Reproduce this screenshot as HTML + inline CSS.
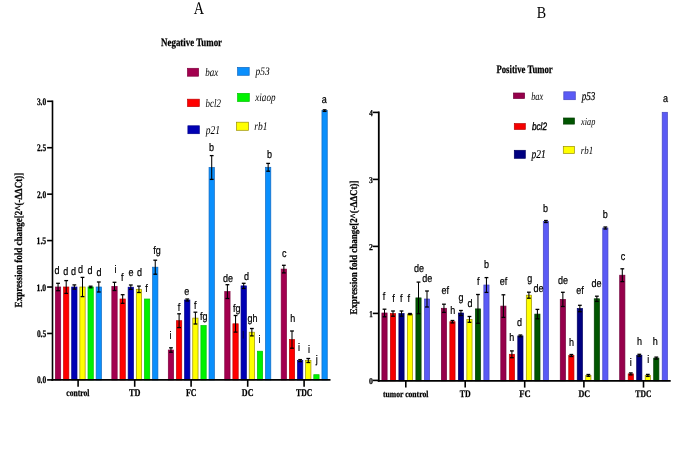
<!DOCTYPE html>
<html><head><meta charset="utf-8"><style>
html,body{margin:0;padding:0;background:#fff;}
svg{display:block;will-change:transform;filter:blur(0.45px);}
text{text-rendering:geometricPrecision;}
</style></head><body>
<svg width="685" height="464" viewBox="0 0 685 464">
<rect x="0" y="0" width="685" height="464" fill="#fff"/>
<rect x="55.40" y="287.00" width="5.30" height="92.90" fill="#a3004f" stroke="#80003e" stroke-width="0.7"/>
<rect x="63.55" y="287.00" width="5.30" height="92.90" fill="#ff0000" stroke="#c00000" stroke-width="0.7"/>
<rect x="71.70" y="287.00" width="5.30" height="92.90" fill="#0000b4" stroke="#00008c" stroke-width="0.7"/>
<rect x="79.85" y="287.00" width="5.30" height="92.90" fill="#ffff00" stroke="#9a9000" stroke-width="0.7"/>
<rect x="88.00" y="287.00" width="5.30" height="92.90" fill="#00f200" stroke="#00c400" stroke-width="0.7"/>
<rect x="96.15" y="287.00" width="5.30" height="92.90" fill="#0a8ffc" stroke="#1068c0" stroke-width="0.7"/>
<rect x="111.85" y="286.40" width="5.30" height="93.50" fill="#a3004f" stroke="#80003e" stroke-width="0.7"/>
<rect x="120.00" y="299.00" width="5.30" height="80.90" fill="#ff0000" stroke="#c00000" stroke-width="0.7"/>
<rect x="128.15" y="287.20" width="5.30" height="92.70" fill="#0000b4" stroke="#00008c" stroke-width="0.7"/>
<rect x="136.30" y="289.30" width="5.30" height="90.60" fill="#ffff00" stroke="#9a9000" stroke-width="0.7"/>
<rect x="144.45" y="299.00" width="5.30" height="80.90" fill="#00f200" stroke="#00c400" stroke-width="0.7"/>
<rect x="152.60" y="267.20" width="5.30" height="112.70" fill="#0a8ffc" stroke="#1068c0" stroke-width="0.7"/>
<rect x="168.30" y="350.00" width="5.30" height="29.90" fill="#a3004f" stroke="#80003e" stroke-width="0.7"/>
<rect x="176.45" y="320.70" width="5.30" height="59.20" fill="#ff0000" stroke="#c00000" stroke-width="0.7"/>
<rect x="184.60" y="300.00" width="5.30" height="79.90" fill="#0000b4" stroke="#00008c" stroke-width="0.7"/>
<rect x="192.75" y="318.10" width="5.30" height="61.80" fill="#ffff00" stroke="#9a9000" stroke-width="0.7"/>
<rect x="200.90" y="325.50" width="5.30" height="54.40" fill="#00f200" stroke="#00c400" stroke-width="0.7"/>
<rect x="209.05" y="167.50" width="5.30" height="212.40" fill="#0a8ffc" stroke="#1068c0" stroke-width="0.7"/>
<rect x="224.75" y="291.60" width="5.30" height="88.30" fill="#a3004f" stroke="#80003e" stroke-width="0.7"/>
<rect x="232.90" y="323.80" width="5.30" height="56.10" fill="#ff0000" stroke="#c00000" stroke-width="0.7"/>
<rect x="241.05" y="285.90" width="5.30" height="94.00" fill="#0000b4" stroke="#00008c" stroke-width="0.7"/>
<rect x="249.20" y="332.20" width="5.30" height="47.70" fill="#ffff00" stroke="#9a9000" stroke-width="0.7"/>
<rect x="257.35" y="351.20" width="5.30" height="28.70" fill="#00f200" stroke="#00c400" stroke-width="0.7"/>
<rect x="265.50" y="167.30" width="5.30" height="212.60" fill="#0a8ffc" stroke="#1068c0" stroke-width="0.7"/>
<rect x="281.20" y="269.10" width="5.30" height="110.80" fill="#a3004f" stroke="#80003e" stroke-width="0.7"/>
<rect x="289.35" y="339.60" width="5.30" height="40.30" fill="#ff0000" stroke="#c00000" stroke-width="0.7"/>
<rect x="297.50" y="360.60" width="5.30" height="19.30" fill="#0000b4" stroke="#00008c" stroke-width="0.7"/>
<rect x="305.65" y="360.50" width="5.30" height="19.40" fill="#ffff00" stroke="#9a9000" stroke-width="0.7"/>
<rect x="313.80" y="374.70" width="5.30" height="5.20" fill="#00f200" stroke="#00c400" stroke-width="0.7"/>
<rect x="321.95" y="110.60" width="5.30" height="269.30" fill="#0a8ffc" stroke="#1068c0" stroke-width="0.7"/>
<line x1="58.05" y1="283.30" x2="58.05" y2="290.70" stroke="#000" stroke-width="1.05"/>
<line x1="56.15" y1="283.30" x2="59.95" y2="283.30" stroke="#000" stroke-width="1.3"/>
<line x1="56.15" y1="290.70" x2="59.95" y2="290.70" stroke="#000" stroke-width="1.3"/>
<line x1="66.20" y1="280.60" x2="66.20" y2="293.40" stroke="#000" stroke-width="1.05"/>
<line x1="64.30" y1="280.60" x2="68.10" y2="280.60" stroke="#000" stroke-width="1.3"/>
<line x1="64.30" y1="293.40" x2="68.10" y2="293.40" stroke="#000" stroke-width="1.3"/>
<line x1="74.35" y1="284.90" x2="74.35" y2="289.10" stroke="#000" stroke-width="1.05"/>
<line x1="72.45" y1="284.90" x2="76.25" y2="284.90" stroke="#000" stroke-width="1.3"/>
<line x1="72.45" y1="289.10" x2="76.25" y2="289.10" stroke="#000" stroke-width="1.3"/>
<line x1="82.50" y1="277.40" x2="82.50" y2="296.60" stroke="#000" stroke-width="1.05"/>
<line x1="80.60" y1="277.40" x2="84.40" y2="277.40" stroke="#000" stroke-width="1.3"/>
<line x1="80.60" y1="296.60" x2="84.40" y2="296.60" stroke="#000" stroke-width="1.3"/>
<line x1="90.65" y1="286.20" x2="90.65" y2="287.80" stroke="#000" stroke-width="1.05"/>
<line x1="88.75" y1="286.20" x2="92.55" y2="286.20" stroke="#000" stroke-width="1.3"/>
<line x1="88.75" y1="287.80" x2="92.55" y2="287.80" stroke="#000" stroke-width="1.3"/>
<line x1="98.80" y1="282.00" x2="98.80" y2="292.00" stroke="#000" stroke-width="1.05"/>
<line x1="96.90" y1="282.00" x2="100.70" y2="282.00" stroke="#000" stroke-width="1.3"/>
<line x1="96.90" y1="292.00" x2="100.70" y2="292.00" stroke="#000" stroke-width="1.3"/>
<line x1="114.50" y1="282.30" x2="114.50" y2="290.50" stroke="#000" stroke-width="1.05"/>
<line x1="112.60" y1="282.30" x2="116.40" y2="282.30" stroke="#000" stroke-width="1.3"/>
<line x1="112.60" y1="290.50" x2="116.40" y2="290.50" stroke="#000" stroke-width="1.3"/>
<line x1="122.65" y1="294.70" x2="122.65" y2="303.30" stroke="#000" stroke-width="1.05"/>
<line x1="120.75" y1="294.70" x2="124.55" y2="294.70" stroke="#000" stroke-width="1.3"/>
<line x1="120.75" y1="303.30" x2="124.55" y2="303.30" stroke="#000" stroke-width="1.3"/>
<line x1="130.80" y1="285.00" x2="130.80" y2="289.40" stroke="#000" stroke-width="1.05"/>
<line x1="128.90" y1="285.00" x2="132.70" y2="285.00" stroke="#000" stroke-width="1.3"/>
<line x1="128.90" y1="289.40" x2="132.70" y2="289.40" stroke="#000" stroke-width="1.3"/>
<line x1="138.95" y1="286.10" x2="138.95" y2="292.50" stroke="#000" stroke-width="1.05"/>
<line x1="137.05" y1="286.10" x2="140.85" y2="286.10" stroke="#000" stroke-width="1.3"/>
<line x1="137.05" y1="292.50" x2="140.85" y2="292.50" stroke="#000" stroke-width="1.3"/>
<line x1="155.25" y1="260.20" x2="155.25" y2="274.20" stroke="#000" stroke-width="1.05"/>
<line x1="153.35" y1="260.20" x2="157.15" y2="260.20" stroke="#000" stroke-width="1.3"/>
<line x1="153.35" y1="274.20" x2="157.15" y2="274.20" stroke="#000" stroke-width="1.3"/>
<line x1="170.95" y1="347.80" x2="170.95" y2="352.20" stroke="#000" stroke-width="1.05"/>
<line x1="169.05" y1="347.80" x2="172.85" y2="347.80" stroke="#000" stroke-width="1.3"/>
<line x1="169.05" y1="352.20" x2="172.85" y2="352.20" stroke="#000" stroke-width="1.3"/>
<line x1="179.10" y1="313.80" x2="179.10" y2="327.60" stroke="#000" stroke-width="1.05"/>
<line x1="177.20" y1="313.80" x2="181.00" y2="313.80" stroke="#000" stroke-width="1.3"/>
<line x1="177.20" y1="327.60" x2="181.00" y2="327.60" stroke="#000" stroke-width="1.3"/>
<line x1="187.25" y1="299.00" x2="187.25" y2="301.00" stroke="#000" stroke-width="1.05"/>
<line x1="185.35" y1="299.00" x2="189.15" y2="299.00" stroke="#000" stroke-width="1.3"/>
<line x1="185.35" y1="301.00" x2="189.15" y2="301.00" stroke="#000" stroke-width="1.3"/>
<line x1="195.40" y1="312.20" x2="195.40" y2="324.00" stroke="#000" stroke-width="1.05"/>
<line x1="193.50" y1="312.20" x2="197.30" y2="312.20" stroke="#000" stroke-width="1.3"/>
<line x1="193.50" y1="324.00" x2="197.30" y2="324.00" stroke="#000" stroke-width="1.3"/>
<line x1="211.70" y1="155.60" x2="211.70" y2="179.40" stroke="#000" stroke-width="1.05"/>
<line x1="209.80" y1="155.60" x2="213.60" y2="155.60" stroke="#000" stroke-width="1.3"/>
<line x1="209.80" y1="179.40" x2="213.60" y2="179.40" stroke="#000" stroke-width="1.3"/>
<line x1="227.40" y1="284.70" x2="227.40" y2="298.50" stroke="#000" stroke-width="1.05"/>
<line x1="225.50" y1="284.70" x2="229.30" y2="284.70" stroke="#000" stroke-width="1.3"/>
<line x1="225.50" y1="298.50" x2="229.30" y2="298.50" stroke="#000" stroke-width="1.3"/>
<line x1="235.55" y1="315.50" x2="235.55" y2="332.10" stroke="#000" stroke-width="1.05"/>
<line x1="233.65" y1="315.50" x2="237.45" y2="315.50" stroke="#000" stroke-width="1.3"/>
<line x1="233.65" y1="332.10" x2="237.45" y2="332.10" stroke="#000" stroke-width="1.3"/>
<line x1="243.70" y1="283.30" x2="243.70" y2="288.50" stroke="#000" stroke-width="1.05"/>
<line x1="241.80" y1="283.30" x2="245.60" y2="283.30" stroke="#000" stroke-width="1.3"/>
<line x1="241.80" y1="288.50" x2="245.60" y2="288.50" stroke="#000" stroke-width="1.3"/>
<line x1="251.85" y1="328.50" x2="251.85" y2="335.90" stroke="#000" stroke-width="1.05"/>
<line x1="249.95" y1="328.50" x2="253.75" y2="328.50" stroke="#000" stroke-width="1.3"/>
<line x1="249.95" y1="335.90" x2="253.75" y2="335.90" stroke="#000" stroke-width="1.3"/>
<line x1="268.15" y1="163.40" x2="268.15" y2="171.20" stroke="#000" stroke-width="1.05"/>
<line x1="266.25" y1="163.40" x2="270.05" y2="163.40" stroke="#000" stroke-width="1.3"/>
<line x1="266.25" y1="171.20" x2="270.05" y2="171.20" stroke="#000" stroke-width="1.3"/>
<line x1="283.85" y1="265.30" x2="283.85" y2="272.90" stroke="#000" stroke-width="1.05"/>
<line x1="281.95" y1="265.30" x2="285.75" y2="265.30" stroke="#000" stroke-width="1.3"/>
<line x1="281.95" y1="272.90" x2="285.75" y2="272.90" stroke="#000" stroke-width="1.3"/>
<line x1="292.00" y1="331.00" x2="292.00" y2="348.20" stroke="#000" stroke-width="1.05"/>
<line x1="290.10" y1="331.00" x2="293.90" y2="331.00" stroke="#000" stroke-width="1.3"/>
<line x1="290.10" y1="348.20" x2="293.90" y2="348.20" stroke="#000" stroke-width="1.3"/>
<line x1="300.15" y1="359.60" x2="300.15" y2="361.60" stroke="#000" stroke-width="1.05"/>
<line x1="298.25" y1="359.60" x2="302.05" y2="359.60" stroke="#000" stroke-width="1.3"/>
<line x1="298.25" y1="361.60" x2="302.05" y2="361.60" stroke="#000" stroke-width="1.3"/>
<line x1="308.30" y1="358.50" x2="308.30" y2="362.50" stroke="#000" stroke-width="1.05"/>
<line x1="306.40" y1="358.50" x2="310.20" y2="358.50" stroke="#000" stroke-width="1.3"/>
<line x1="306.40" y1="362.50" x2="310.20" y2="362.50" stroke="#000" stroke-width="1.3"/>
<line x1="324.60" y1="109.80" x2="324.60" y2="111.40" stroke="#000" stroke-width="1.05"/>
<line x1="322.70" y1="109.80" x2="326.50" y2="109.80" stroke="#000" stroke-width="1.3"/>
<line x1="322.70" y1="111.40" x2="326.50" y2="111.40" stroke="#000" stroke-width="1.3"/>
<line x1="52.50" y1="100.60" x2="52.50" y2="380.80" stroke="#000" stroke-width="1.6"/>
<line x1="51.30" y1="379.90" x2="330.50" y2="379.90" stroke="#000" stroke-width="1.8"/>
<line x1="47.10" y1="379.90" x2="52.50" y2="379.90" stroke="#000" stroke-width="1.6"/>
<line x1="47.10" y1="333.46" x2="52.50" y2="333.46" stroke="#000" stroke-width="1.6"/>
<line x1="47.10" y1="287.03" x2="52.50" y2="287.03" stroke="#000" stroke-width="1.6"/>
<line x1="47.10" y1="240.59" x2="52.50" y2="240.59" stroke="#000" stroke-width="1.6"/>
<line x1="47.10" y1="194.16" x2="52.50" y2="194.16" stroke="#000" stroke-width="1.6"/>
<line x1="47.10" y1="147.72" x2="52.50" y2="147.72" stroke="#000" stroke-width="1.6"/>
<line x1="47.10" y1="101.29" x2="52.50" y2="101.29" stroke="#000" stroke-width="1.6"/>
<line x1="78.10" y1="379.90" x2="78.10" y2="386.80" stroke="#000" stroke-width="1.6"/>
<line x1="134.70" y1="379.90" x2="134.70" y2="386.80" stroke="#000" stroke-width="1.6"/>
<line x1="191.10" y1="379.90" x2="191.10" y2="386.80" stroke="#000" stroke-width="1.6"/>
<line x1="247.70" y1="379.90" x2="247.70" y2="386.80" stroke="#000" stroke-width="1.6"/>
<line x1="304.10" y1="379.90" x2="304.10" y2="386.80" stroke="#000" stroke-width="1.6"/>
<line x1="243.20" y1="331.00" x2="243.20" y2="338.60" stroke="#000040" stroke-width="1.0"/>
<text transform="translate(54.61 273.70) scale(0.8200 1)" font-family='"Liberation Sans", sans-serif' font-size="11.00" fill="#000" stroke="#000" stroke-width="0.22">d</text>
<text transform="translate(63.21 274.60) scale(0.8200 1)" font-family='"Liberation Sans", sans-serif' font-size="11.00" fill="#000" stroke="#000" stroke-width="0.22">d</text>
<text transform="translate(71.11 275.30) scale(0.8200 1)" font-family='"Liberation Sans", sans-serif' font-size="11.00" fill="#000" stroke="#000" stroke-width="0.22">d</text>
<text transform="translate(78.11 273.20) scale(0.8200 1)" font-family='"Liberation Sans", sans-serif' font-size="11.00" fill="#000" stroke="#000" stroke-width="0.22">d</text>
<text transform="translate(87.51 274.20) scale(0.8200 1)" font-family='"Liberation Sans", sans-serif' font-size="11.00" fill="#000" stroke="#000" stroke-width="0.22">d</text>
<text transform="translate(96.41 276.40) scale(0.8200 1)" font-family='"Liberation Sans", sans-serif' font-size="11.00" fill="#000" stroke="#000" stroke-width="0.22">d</text>
<text transform="translate(114.41 272.80) scale(0.8200 1)" font-family='"Liberation Sans", sans-serif' font-size="11.00" fill="#000" stroke="#000" stroke-width="0.22">i</text>
<text transform="translate(120.89 281.20) scale(0.8200 1)" font-family='"Liberation Sans", sans-serif' font-size="11.00" fill="#000" stroke="#000" stroke-width="0.22">f</text>
<text transform="translate(128.42 276.40) scale(0.8200 1)" font-family='"Liberation Sans", sans-serif' font-size="11.00" fill="#000" stroke="#000" stroke-width="0.22">e</text>
<text transform="translate(137.11 275.90) scale(0.8200 1)" font-family='"Liberation Sans", sans-serif' font-size="11.00" fill="#000" stroke="#000" stroke-width="0.22">d</text>
<text transform="translate(145.19 291.50) scale(0.8200 1)" font-family='"Liberation Sans", sans-serif' font-size="11.00" fill="#000" stroke="#000" stroke-width="0.22">f</text>
<text transform="translate(153.18 253.60) scale(0.8200 1)" font-family='"Liberation Sans", sans-serif' font-size="11.00" fill="#000" stroke="#000" stroke-width="0.22">fg</text>
<text transform="translate(169.51 338.50) scale(0.8200 1)" font-family='"Liberation Sans", sans-serif' font-size="11.00" fill="#000" stroke="#000" stroke-width="0.22">i</text>
<text transform="translate(177.69 310.90) scale(0.8200 1)" font-family='"Liberation Sans", sans-serif' font-size="11.00" fill="#000" stroke="#000" stroke-width="0.22">f</text>
<text transform="translate(184.22 294.50) scale(0.8200 1)" font-family='"Liberation Sans", sans-serif' font-size="11.00" fill="#000" stroke="#000" stroke-width="0.22">e</text>
<text transform="translate(193.99 309.10) scale(0.8200 1)" font-family='"Liberation Sans", sans-serif' font-size="11.00" fill="#000" stroke="#000" stroke-width="0.22">f</text>
<text transform="translate(200.08 320.20) scale(0.8200 1)" font-family='"Liberation Sans", sans-serif' font-size="11.00" fill="#000" stroke="#000" stroke-width="0.22">fg</text>
<text transform="translate(209.08 150.50) scale(0.8200 1)" font-family='"Liberation Sans", sans-serif' font-size="11.00" fill="#000" stroke="#000" stroke-width="0.22">b</text>
<text transform="translate(222.99 282.40) scale(0.8200 1)" font-family='"Liberation Sans", sans-serif' font-size="11.00" fill="#000" stroke="#000" stroke-width="0.22">de</text>
<text transform="translate(232.98 311.50) scale(0.8200 1)" font-family='"Liberation Sans", sans-serif' font-size="11.00" fill="#000" stroke="#000" stroke-width="0.22">fg</text>
<text transform="translate(244.11 279.80) scale(0.8200 1)" font-family='"Liberation Sans", sans-serif' font-size="11.00" fill="#000" stroke="#000" stroke-width="0.22">d</text>
<text transform="translate(247.48 321.70) scale(0.8200 1)" font-family='"Liberation Sans", sans-serif' font-size="11.00" fill="#000" stroke="#000" stroke-width="0.22">gh</text>
<text transform="translate(258.61 342.90) scale(0.8200 1)" font-family='"Liberation Sans", sans-serif' font-size="11.00" fill="#000" stroke="#000" stroke-width="0.22">i</text>
<text transform="translate(266.88 157.80) scale(0.8200 1)" font-family='"Liberation Sans", sans-serif' font-size="11.00" fill="#000" stroke="#000" stroke-width="0.22">b</text>
<text transform="translate(281.90 256.50) scale(0.8200 1)" font-family='"Liberation Sans", sans-serif' font-size="11.00" fill="#000" stroke="#000" stroke-width="0.22">c</text>
<text transform="translate(290.17 321.70) scale(0.8200 1)" font-family='"Liberation Sans", sans-serif' font-size="11.00" fill="#000" stroke="#000" stroke-width="0.22">h</text>
<text transform="translate(298.01 350.50) scale(0.8200 1)" font-family='"Liberation Sans", sans-serif' font-size="11.00" fill="#000" stroke="#000" stroke-width="0.22">i</text>
<text transform="translate(307.91 353.40) scale(0.8200 1)" font-family='"Liberation Sans", sans-serif' font-size="11.00" fill="#000" stroke="#000" stroke-width="0.22">i</text>
<text transform="translate(315.81 363.00) scale(0.8200 1)" font-family='"Liberation Sans", sans-serif' font-size="11.00" fill="#000" stroke="#000" stroke-width="0.22">j</text>
<text transform="translate(321.79 102.80) scale(0.8200 1)" font-family='"Liberation Sans", sans-serif' font-size="11.00" fill="#000" stroke="#000" stroke-width="0.22">a</text>
<text transform="translate(22.00 307.38) rotate(-90) scale(0.8378 1)" font-family='"Liberation Serif", serif' font-size="10.77" fill="#000" font-weight="bold" stroke="#000" stroke-width="0.25">Expression fold change[2^(-ΔΔCt)]</text>
<rect x="381.90" y="313.00" width="5.20" height="67.80" fill="#96004b" stroke="#70003a" stroke-width="0.7"/>
<rect x="390.40" y="313.60" width="5.20" height="67.20" fill="#f50000" stroke="#b80000" stroke-width="0.7"/>
<rect x="398.90" y="313.60" width="5.20" height="67.20" fill="#000080" stroke="#000060" stroke-width="0.7"/>
<rect x="407.40" y="314.10" width="5.20" height="66.70" fill="#ffff00" stroke="#9a9000" stroke-width="0.7"/>
<rect x="415.90" y="297.90" width="5.20" height="82.90" fill="#005500" stroke="#003c00" stroke-width="0.7"/>
<rect x="424.40" y="299.00" width="5.20" height="81.80" fill="#5a5af5" stroke="#4444c0" stroke-width="0.7"/>
<rect x="441.35" y="308.30" width="5.20" height="72.50" fill="#96004b" stroke="#70003a" stroke-width="0.7"/>
<rect x="449.85" y="321.70" width="5.20" height="59.10" fill="#f50000" stroke="#b80000" stroke-width="0.7"/>
<rect x="458.35" y="313.00" width="5.20" height="67.80" fill="#000080" stroke="#000060" stroke-width="0.7"/>
<rect x="466.85" y="319.40" width="5.20" height="61.40" fill="#ffff00" stroke="#9a9000" stroke-width="0.7"/>
<rect x="475.35" y="308.90" width="5.20" height="71.90" fill="#005500" stroke="#003c00" stroke-width="0.7"/>
<rect x="483.85" y="285.00" width="5.20" height="95.80" fill="#5a5af5" stroke="#4444c0" stroke-width="0.7"/>
<rect x="500.80" y="306.10" width="5.20" height="74.70" fill="#96004b" stroke="#70003a" stroke-width="0.7"/>
<rect x="509.30" y="354.30" width="5.20" height="26.50" fill="#f50000" stroke="#b80000" stroke-width="0.7"/>
<rect x="517.80" y="335.90" width="5.20" height="44.90" fill="#000080" stroke="#000060" stroke-width="0.7"/>
<rect x="526.30" y="295.20" width="5.20" height="85.60" fill="#ffff00" stroke="#9a9000" stroke-width="0.7"/>
<rect x="534.80" y="314.10" width="5.20" height="66.70" fill="#005500" stroke="#003c00" stroke-width="0.7"/>
<rect x="543.30" y="221.50" width="5.20" height="159.30" fill="#5a5af5" stroke="#4444c0" stroke-width="0.7"/>
<rect x="560.25" y="299.40" width="5.20" height="81.40" fill="#96004b" stroke="#70003a" stroke-width="0.7"/>
<rect x="568.75" y="355.50" width="5.20" height="25.30" fill="#f50000" stroke="#b80000" stroke-width="0.7"/>
<rect x="577.25" y="308.50" width="5.20" height="72.30" fill="#000080" stroke="#000060" stroke-width="0.7"/>
<rect x="585.75" y="375.40" width="5.20" height="5.40" fill="#ffff00" stroke="#9a9000" stroke-width="0.7"/>
<rect x="594.25" y="298.80" width="5.20" height="82.00" fill="#005500" stroke="#003c00" stroke-width="0.7"/>
<rect x="602.75" y="228.00" width="5.20" height="152.80" fill="#5a5af5" stroke="#4444c0" stroke-width="0.7"/>
<rect x="619.70" y="275.20" width="5.20" height="105.60" fill="#96004b" stroke="#70003a" stroke-width="0.7"/>
<rect x="628.20" y="373.90" width="5.20" height="6.90" fill="#f50000" stroke="#b80000" stroke-width="0.7"/>
<rect x="636.70" y="355.30" width="5.20" height="25.50" fill="#000080" stroke="#000060" stroke-width="0.7"/>
<rect x="645.20" y="375.40" width="5.20" height="5.40" fill="#ffff00" stroke="#9a9000" stroke-width="0.7"/>
<rect x="653.70" y="358.10" width="5.20" height="22.70" fill="#005500" stroke="#003c00" stroke-width="0.7"/>
<rect x="662.20" y="112.30" width="5.20" height="268.50" fill="#5a5af5" stroke="#4444c0" stroke-width="0.7"/>
<line x1="384.50" y1="309.20" x2="384.50" y2="316.80" stroke="#000" stroke-width="1.05"/>
<line x1="382.60" y1="309.20" x2="386.40" y2="309.20" stroke="#000" stroke-width="1.3"/>
<line x1="382.60" y1="316.80" x2="386.40" y2="316.80" stroke="#000" stroke-width="1.3"/>
<line x1="393.00" y1="311.00" x2="393.00" y2="316.20" stroke="#000" stroke-width="1.05"/>
<line x1="391.10" y1="311.00" x2="394.90" y2="311.00" stroke="#000" stroke-width="1.3"/>
<line x1="391.10" y1="316.20" x2="394.90" y2="316.20" stroke="#000" stroke-width="1.3"/>
<line x1="401.50" y1="311.00" x2="401.50" y2="316.20" stroke="#000" stroke-width="1.05"/>
<line x1="399.60" y1="311.00" x2="403.40" y2="311.00" stroke="#000" stroke-width="1.3"/>
<line x1="399.60" y1="316.20" x2="403.40" y2="316.20" stroke="#000" stroke-width="1.3"/>
<line x1="410.00" y1="313.50" x2="410.00" y2="314.70" stroke="#000" stroke-width="1.05"/>
<line x1="408.10" y1="313.50" x2="411.90" y2="313.50" stroke="#000" stroke-width="1.3"/>
<line x1="408.10" y1="314.70" x2="411.90" y2="314.70" stroke="#000" stroke-width="1.3"/>
<line x1="418.50" y1="282.10" x2="418.50" y2="313.70" stroke="#000" stroke-width="1.05"/>
<line x1="416.60" y1="282.10" x2="420.40" y2="282.10" stroke="#000" stroke-width="1.3"/>
<line x1="416.60" y1="313.70" x2="420.40" y2="313.70" stroke="#000" stroke-width="1.3"/>
<line x1="427.00" y1="291.00" x2="427.00" y2="307.00" stroke="#000" stroke-width="1.05"/>
<line x1="425.10" y1="291.00" x2="428.90" y2="291.00" stroke="#000" stroke-width="1.3"/>
<line x1="425.10" y1="307.00" x2="428.90" y2="307.00" stroke="#000" stroke-width="1.3"/>
<line x1="443.95" y1="304.20" x2="443.95" y2="312.40" stroke="#000" stroke-width="1.05"/>
<line x1="442.05" y1="304.20" x2="445.85" y2="304.20" stroke="#000" stroke-width="1.3"/>
<line x1="442.05" y1="312.40" x2="445.85" y2="312.40" stroke="#000" stroke-width="1.3"/>
<line x1="452.45" y1="320.50" x2="452.45" y2="322.90" stroke="#000" stroke-width="1.05"/>
<line x1="450.55" y1="320.50" x2="454.35" y2="320.50" stroke="#000" stroke-width="1.3"/>
<line x1="450.55" y1="322.90" x2="454.35" y2="322.90" stroke="#000" stroke-width="1.3"/>
<line x1="460.95" y1="310.50" x2="460.95" y2="315.50" stroke="#000" stroke-width="1.05"/>
<line x1="459.05" y1="310.50" x2="462.85" y2="310.50" stroke="#000" stroke-width="1.3"/>
<line x1="459.05" y1="315.50" x2="462.85" y2="315.50" stroke="#000" stroke-width="1.3"/>
<line x1="469.45" y1="316.50" x2="469.45" y2="322.30" stroke="#000" stroke-width="1.05"/>
<line x1="467.55" y1="316.50" x2="471.35" y2="316.50" stroke="#000" stroke-width="1.3"/>
<line x1="467.55" y1="322.30" x2="471.35" y2="322.30" stroke="#000" stroke-width="1.3"/>
<line x1="477.95" y1="294.50" x2="477.95" y2="323.30" stroke="#000" stroke-width="1.05"/>
<line x1="476.05" y1="294.50" x2="479.85" y2="294.50" stroke="#000" stroke-width="1.3"/>
<line x1="476.05" y1="323.30" x2="479.85" y2="323.30" stroke="#000" stroke-width="1.3"/>
<line x1="486.45" y1="277.60" x2="486.45" y2="292.40" stroke="#000" stroke-width="1.05"/>
<line x1="484.55" y1="277.60" x2="488.35" y2="277.60" stroke="#000" stroke-width="1.3"/>
<line x1="484.55" y1="292.40" x2="488.35" y2="292.40" stroke="#000" stroke-width="1.3"/>
<line x1="503.40" y1="294.80" x2="503.40" y2="317.40" stroke="#000" stroke-width="1.05"/>
<line x1="501.50" y1="294.80" x2="505.30" y2="294.80" stroke="#000" stroke-width="1.3"/>
<line x1="501.50" y1="317.40" x2="505.30" y2="317.40" stroke="#000" stroke-width="1.3"/>
<line x1="511.90" y1="350.90" x2="511.90" y2="357.70" stroke="#000" stroke-width="1.05"/>
<line x1="510.00" y1="350.90" x2="513.80" y2="350.90" stroke="#000" stroke-width="1.3"/>
<line x1="510.00" y1="357.70" x2="513.80" y2="357.70" stroke="#000" stroke-width="1.3"/>
<line x1="520.40" y1="335.00" x2="520.40" y2="336.80" stroke="#000" stroke-width="1.05"/>
<line x1="518.50" y1="335.00" x2="522.30" y2="335.00" stroke="#000" stroke-width="1.3"/>
<line x1="518.50" y1="336.80" x2="522.30" y2="336.80" stroke="#000" stroke-width="1.3"/>
<line x1="528.90" y1="292.20" x2="528.90" y2="298.20" stroke="#000" stroke-width="1.05"/>
<line x1="527.00" y1="292.20" x2="530.80" y2="292.20" stroke="#000" stroke-width="1.3"/>
<line x1="527.00" y1="298.20" x2="530.80" y2="298.20" stroke="#000" stroke-width="1.3"/>
<line x1="537.40" y1="309.40" x2="537.40" y2="318.80" stroke="#000" stroke-width="1.05"/>
<line x1="535.50" y1="309.40" x2="539.30" y2="309.40" stroke="#000" stroke-width="1.3"/>
<line x1="535.50" y1="318.80" x2="539.30" y2="318.80" stroke="#000" stroke-width="1.3"/>
<line x1="545.90" y1="220.50" x2="545.90" y2="222.50" stroke="#000" stroke-width="1.05"/>
<line x1="544.00" y1="220.50" x2="547.80" y2="220.50" stroke="#000" stroke-width="1.3"/>
<line x1="544.00" y1="222.50" x2="547.80" y2="222.50" stroke="#000" stroke-width="1.3"/>
<line x1="562.85" y1="292.30" x2="562.85" y2="306.50" stroke="#000" stroke-width="1.05"/>
<line x1="560.95" y1="292.30" x2="564.75" y2="292.30" stroke="#000" stroke-width="1.3"/>
<line x1="560.95" y1="306.50" x2="564.75" y2="306.50" stroke="#000" stroke-width="1.3"/>
<line x1="571.35" y1="354.50" x2="571.35" y2="356.50" stroke="#000" stroke-width="1.05"/>
<line x1="569.45" y1="354.50" x2="573.25" y2="354.50" stroke="#000" stroke-width="1.3"/>
<line x1="569.45" y1="356.50" x2="573.25" y2="356.50" stroke="#000" stroke-width="1.3"/>
<line x1="579.85" y1="305.30" x2="579.85" y2="311.70" stroke="#000" stroke-width="1.05"/>
<line x1="577.95" y1="305.30" x2="581.75" y2="305.30" stroke="#000" stroke-width="1.3"/>
<line x1="577.95" y1="311.70" x2="581.75" y2="311.70" stroke="#000" stroke-width="1.3"/>
<line x1="588.35" y1="374.50" x2="588.35" y2="376.30" stroke="#000" stroke-width="1.05"/>
<line x1="586.45" y1="374.50" x2="590.25" y2="374.50" stroke="#000" stroke-width="1.3"/>
<line x1="586.45" y1="376.30" x2="590.25" y2="376.30" stroke="#000" stroke-width="1.3"/>
<line x1="596.85" y1="296.20" x2="596.85" y2="301.40" stroke="#000" stroke-width="1.05"/>
<line x1="594.95" y1="296.20" x2="598.75" y2="296.20" stroke="#000" stroke-width="1.3"/>
<line x1="594.95" y1="301.40" x2="598.75" y2="301.40" stroke="#000" stroke-width="1.3"/>
<line x1="605.35" y1="227.00" x2="605.35" y2="229.00" stroke="#000" stroke-width="1.05"/>
<line x1="603.45" y1="227.00" x2="607.25" y2="227.00" stroke="#000" stroke-width="1.3"/>
<line x1="603.45" y1="229.00" x2="607.25" y2="229.00" stroke="#000" stroke-width="1.3"/>
<line x1="622.30" y1="268.80" x2="622.30" y2="281.60" stroke="#000" stroke-width="1.05"/>
<line x1="620.40" y1="268.80" x2="624.20" y2="268.80" stroke="#000" stroke-width="1.3"/>
<line x1="620.40" y1="281.60" x2="624.20" y2="281.60" stroke="#000" stroke-width="1.3"/>
<line x1="630.80" y1="372.90" x2="630.80" y2="374.90" stroke="#000" stroke-width="1.05"/>
<line x1="628.90" y1="372.90" x2="632.70" y2="372.90" stroke="#000" stroke-width="1.3"/>
<line x1="628.90" y1="374.90" x2="632.70" y2="374.90" stroke="#000" stroke-width="1.3"/>
<line x1="639.30" y1="354.30" x2="639.30" y2="356.30" stroke="#000" stroke-width="1.05"/>
<line x1="637.40" y1="354.30" x2="641.20" y2="354.30" stroke="#000" stroke-width="1.3"/>
<line x1="637.40" y1="356.30" x2="641.20" y2="356.30" stroke="#000" stroke-width="1.3"/>
<line x1="647.80" y1="374.40" x2="647.80" y2="376.40" stroke="#000" stroke-width="1.05"/>
<line x1="645.90" y1="374.40" x2="649.70" y2="374.40" stroke="#000" stroke-width="1.3"/>
<line x1="645.90" y1="376.40" x2="649.70" y2="376.40" stroke="#000" stroke-width="1.3"/>
<line x1="656.30" y1="357.10" x2="656.30" y2="359.10" stroke="#000" stroke-width="1.05"/>
<line x1="654.40" y1="357.10" x2="658.20" y2="357.10" stroke="#000" stroke-width="1.3"/>
<line x1="654.40" y1="359.10" x2="658.20" y2="359.10" stroke="#000" stroke-width="1.3"/>
<line x1="378.80" y1="111.40" x2="378.80" y2="381.70" stroke="#000" stroke-width="1.8"/>
<line x1="377.70" y1="380.80" x2="670.70" y2="380.80" stroke="#000" stroke-width="1.8"/>
<line x1="372.80" y1="380.40" x2="378.80" y2="380.40" stroke="#000" stroke-width="1.6"/>
<line x1="372.80" y1="313.40" x2="378.80" y2="313.40" stroke="#000" stroke-width="1.6"/>
<line x1="372.80" y1="246.40" x2="378.80" y2="246.40" stroke="#000" stroke-width="1.6"/>
<line x1="372.80" y1="179.40" x2="378.80" y2="179.40" stroke="#000" stroke-width="1.6"/>
<line x1="372.80" y1="112.40" x2="378.80" y2="112.40" stroke="#000" stroke-width="1.6"/>
<line x1="405.80" y1="380.80" x2="405.80" y2="387.60" stroke="#000" stroke-width="1.6"/>
<line x1="465.20" y1="380.80" x2="465.20" y2="387.60" stroke="#000" stroke-width="1.6"/>
<line x1="524.70" y1="380.80" x2="524.70" y2="387.60" stroke="#000" stroke-width="1.6"/>
<line x1="583.90" y1="380.80" x2="583.90" y2="387.60" stroke="#000" stroke-width="1.6"/>
<line x1="643.50" y1="380.80" x2="643.50" y2="387.60" stroke="#000" stroke-width="1.6"/>
<text transform="translate(382.69 299.80) scale(0.8200 1)" font-family='"Liberation Sans", sans-serif' font-size="11.00" fill="#000" stroke="#000" stroke-width="0.22">f</text>
<text transform="translate(392.19 302.00) scale(0.8200 1)" font-family='"Liberation Sans", sans-serif' font-size="11.00" fill="#000" stroke="#000" stroke-width="0.22">f</text>
<text transform="translate(399.89 302.00) scale(0.8200 1)" font-family='"Liberation Sans", sans-serif' font-size="11.00" fill="#000" stroke="#000" stroke-width="0.22">f</text>
<text transform="translate(407.39 302.00) scale(0.8200 1)" font-family='"Liberation Sans", sans-serif' font-size="11.00" fill="#000" stroke="#000" stroke-width="0.22">f</text>
<text transform="translate(414.09 271.90) scale(0.8200 1)" font-family='"Liberation Sans", sans-serif' font-size="11.00" fill="#000" stroke="#000" stroke-width="0.22">de</text>
<text transform="translate(422.29 281.70) scale(0.8200 1)" font-family='"Liberation Sans", sans-serif' font-size="11.00" fill="#000" stroke="#000" stroke-width="0.22">de</text>
<text transform="translate(441.38 293.70) scale(0.8200 1)" font-family='"Liberation Sans", sans-serif' font-size="11.00" fill="#000" stroke="#000" stroke-width="0.22">ef</text>
<text transform="translate(450.27 314.00) scale(0.8200 1)" font-family='"Liberation Sans", sans-serif' font-size="11.00" fill="#000" stroke="#000" stroke-width="0.22">h</text>
<text transform="translate(458.51 300.50) scale(0.8200 1)" font-family='"Liberation Sans", sans-serif' font-size="11.00" fill="#000" stroke="#000" stroke-width="0.22">g</text>
<text transform="translate(467.41 307.30) scale(0.8200 1)" font-family='"Liberation Sans", sans-serif' font-size="11.00" fill="#000" stroke="#000" stroke-width="0.22">d</text>
<text transform="translate(477.09 285.40) scale(0.8200 1)" font-family='"Liberation Sans", sans-serif' font-size="11.00" fill="#000" stroke="#000" stroke-width="0.22">f</text>
<text transform="translate(483.88 268.10) scale(0.8200 1)" font-family='"Liberation Sans", sans-serif' font-size="11.00" fill="#000" stroke="#000" stroke-width="0.22">b</text>
<text transform="translate(499.68 285.40) scale(0.8200 1)" font-family='"Liberation Sans", sans-serif' font-size="11.00" fill="#000" stroke="#000" stroke-width="0.22">ef</text>
<text transform="translate(509.27 341.40) scale(0.8200 1)" font-family='"Liberation Sans", sans-serif' font-size="11.00" fill="#000" stroke="#000" stroke-width="0.22">h</text>
<text transform="translate(517.11 325.90) scale(0.8200 1)" font-family='"Liberation Sans", sans-serif' font-size="11.00" fill="#000" stroke="#000" stroke-width="0.22">d</text>
<text transform="translate(527.21 281.50) scale(0.8200 1)" font-family='"Liberation Sans", sans-serif' font-size="11.00" fill="#000" stroke="#000" stroke-width="0.22">g</text>
<text transform="translate(533.39 292.20) scale(0.8200 1)" font-family='"Liberation Sans", sans-serif' font-size="11.00" fill="#000" stroke="#000" stroke-width="0.22">de</text>
<text transform="translate(543.08 211.60) scale(0.8200 1)" font-family='"Liberation Sans", sans-serif' font-size="11.00" fill="#000" stroke="#000" stroke-width="0.22">b</text>
<text transform="translate(557.99 283.90) scale(0.8200 1)" font-family='"Liberation Sans", sans-serif' font-size="11.00" fill="#000" stroke="#000" stroke-width="0.22">de</text>
<text transform="translate(568.97 345.90) scale(0.8200 1)" font-family='"Liberation Sans", sans-serif' font-size="11.00" fill="#000" stroke="#000" stroke-width="0.22">h</text>
<text transform="translate(576.28 294.30) scale(0.8200 1)" font-family='"Liberation Sans", sans-serif' font-size="11.00" fill="#000" stroke="#000" stroke-width="0.22">ef</text>
<text transform="translate(591.39 287.20) scale(0.8200 1)" font-family='"Liberation Sans", sans-serif' font-size="11.00" fill="#000" stroke="#000" stroke-width="0.22">de</text>
<text transform="translate(602.78 217.80) scale(0.8200 1)" font-family='"Liberation Sans", sans-serif' font-size="11.00" fill="#000" stroke="#000" stroke-width="0.22">b</text>
<text transform="translate(620.70 260.30) scale(0.8200 1)" font-family='"Liberation Sans", sans-serif' font-size="11.00" fill="#000" stroke="#000" stroke-width="0.22">c</text>
<text transform="translate(629.81 366.20) scale(0.8200 1)" font-family='"Liberation Sans", sans-serif' font-size="11.00" fill="#000" stroke="#000" stroke-width="0.22">i</text>
<text transform="translate(636.97 345.20) scale(0.8200 1)" font-family='"Liberation Sans", sans-serif' font-size="11.00" fill="#000" stroke="#000" stroke-width="0.22">h</text>
<text transform="translate(647.21 362.70) scale(0.8200 1)" font-family='"Liberation Sans", sans-serif' font-size="11.00" fill="#000" stroke="#000" stroke-width="0.22">i</text>
<text transform="translate(652.87 345.20) scale(0.8200 1)" font-family='"Liberation Sans", sans-serif' font-size="11.00" fill="#000" stroke="#000" stroke-width="0.22">h</text>
<text transform="translate(662.89 101.60) scale(0.8200 1)" font-family='"Liberation Sans", sans-serif' font-size="11.00" fill="#000" stroke="#000" stroke-width="0.22">a</text>
<text transform="translate(357.00 314.38) rotate(-90) scale(0.8579 1)" font-family='"Liberation Serif", serif' font-size="10.46" fill="#000" font-weight="bold" stroke="#000" stroke-width="0.25">Expression fold change[2^(-ΔΔCt)]</text>
<rect x="187.50" y="68.30" width="11.10" height="7.90" fill="#a3004f" stroke="#80003e" stroke-width="0.7"/>
<rect x="187.60" y="99.20" width="11.70" height="7.40" fill="#ff0000" stroke="#c00000" stroke-width="0.7"/>
<rect x="187.90" y="125.80" width="11.40" height="7.90" fill="#0000b4" stroke="#00008c" stroke-width="0.7"/>
<rect x="237.60" y="67.40" width="11.60" height="7.90" fill="#0a8ffc" stroke="#1068c0" stroke-width="0.7"/>
<rect x="237.60" y="93.40" width="11.70" height="8.10" fill="#00f200" stroke="#00c400" stroke-width="0.7"/>
<rect x="236.50" y="122.20" width="12.00" height="8.10" fill="#ffff00" stroke="#9a9000" stroke-width="0.7"/>
<rect x="513.50" y="93.00" width="11.10" height="5.50" fill="#96004b" stroke="#70003a" stroke-width="0.7"/>
<rect x="514.30" y="123.60" width="11.00" height="5.80" fill="#f50000" stroke="#b80000" stroke-width="0.7"/>
<rect x="514.30" y="150.30" width="11.00" height="8.00" fill="#000080" stroke="#000060" stroke-width="0.7"/>
<rect x="563.80" y="91.80" width="11.50" height="7.90" fill="#5a5af5" stroke="#4444c0" stroke-width="0.7"/>
<rect x="563.50" y="118.00" width="10.90" height="6.10" fill="#005500" stroke="#003c00" stroke-width="0.7"/>
<rect x="563.30" y="146.40" width="11.10" height="7.00" fill="#ffff00" stroke="#9a9000" stroke-width="0.7"/>
<text transform="translate(193.86 13.98) scale(0.8075 1)" font-family='"Liberation Serif", serif' font-size="17.69" fill="#000">A</text>
<text transform="translate(161.12 45.82) scale(0.7840 1)" font-family='"Liberation Serif", serif' font-size="11.33" fill="#000" font-weight="bold" stroke="#000" stroke-width="0.25">Negative Tumor</text>
<text transform="translate(205.34 75.88) scale(0.7683 1)" font-family='"Liberation Serif", serif' font-size="11.71" fill="#000" font-style="italic">bax</text>
<text transform="translate(205.54 106.79) scale(0.7801 1)" font-family='"Liberation Serif", serif' font-size="11.43" fill="#000" font-style="italic">bcl2</text>
<text transform="translate(205.67 133.54) scale(0.7811 1)" font-family='"Liberation Serif", serif' font-size="12.18" fill="#000" font-style="italic">p21</text>
<text transform="translate(255.56 75.28) scale(0.8173 1)" font-family='"Liberation Serif", serif' font-size="11.51" fill="#000" font-style="italic">p53</text>
<text transform="translate(255.29 101.38) scale(0.7897 1)" font-family='"Liberation Serif", serif' font-size="11.51" fill="#000" font-style="italic">xiaop</text>
<text transform="translate(254.32 129.98) scale(0.8055 1)" font-family='"Liberation Serif", serif' font-size="11.71" fill="#000" font-style="italic">rb1</text>
<text transform="translate(66.27 395.80) scale(0.7932 1)" font-family='"Liberation Serif", serif' font-size="9.57" fill="#000" font-weight="bold" stroke="#000" stroke-width="0.25">control</text>
<text transform="translate(129.03 395.80) scale(0.7893 1)" font-family='"Liberation Serif", serif' font-size="10.46" fill="#000" font-weight="bold" stroke="#000" stroke-width="0.25">TD</text>
<text transform="translate(185.94 395.80) scale(0.7637 1)" font-family='"Liberation Serif", serif' font-size="10.45" fill="#000" font-weight="bold" stroke="#000" stroke-width="0.25">FC</text>
<text transform="translate(241.84 395.80) scale(0.7794 1)" font-family='"Liberation Serif", serif' font-size="10.45" fill="#000" font-weight="bold" stroke="#000" stroke-width="0.25">DC</text>
<text transform="translate(295.94 395.80) scale(0.7482 1)" font-family='"Liberation Serif", serif' font-size="10.45" fill="#000" font-weight="bold" stroke="#000" stroke-width="0.25">TDC</text>
<text transform="translate(536.78 18.10) scale(0.8389 1)" font-family='"Liberation Serif", serif' font-size="16.77" fill="#000">B</text>
<text transform="translate(496.43 73.09) scale(0.7607 1)" font-family='"Liberation Serif", serif' font-size="11.43" fill="#000" font-weight="bold" stroke="#000" stroke-width="0.25">Positive Tumor</text>
<text transform="translate(531.16 99.89) scale(0.7468 1)" font-family='"Liberation Serif", serif' font-size="11.29" fill="#000" font-style="italic">bax</text>
<text transform="translate(531.94 130.49) scale(0.7702 1)" font-family='"Liberation Sans", sans-serif' font-size="10.68" fill="#000" font-style="italic" stroke="#000" stroke-width="0.35">bcl2</text>
<text transform="translate(531.57 157.97) scale(0.7829 1)" font-family='"Liberation Serif", serif' font-size="12.07" fill="#000" font-style="italic" stroke="#000" stroke-width="0.2">p21</text>
<text transform="translate(581.65 99.58) scale(0.7635 1)" font-family='"Liberation Serif", serif' font-size="11.98" fill="#000" font-style="italic" stroke="#000" stroke-width="0.2">p53</text>
<text transform="translate(581.08 124.68) scale(0.7783 1)" font-family='"Liberation Serif", serif' font-size="10.58" fill="#000" font-style="italic">xiap</text>
<text transform="translate(580.75 153.89) scale(0.8171 1)" font-family='"Liberation Serif", serif' font-size="10.86" fill="#000" font-style="italic">rb1</text>
<text transform="translate(383.05 396.81) scale(0.8475 1)" font-family='"Liberation Serif", serif' font-size="9.00" fill="#000" font-weight="bold" stroke="#000" stroke-width="0.25">tumor control</text>
<text transform="translate(459.84 396.80) scale(0.7759 1)" font-family='"Liberation Serif", serif' font-size="10.15" fill="#000" font-weight="bold" stroke="#000" stroke-width="0.25">TD</text>
<text transform="translate(519.33 396.70) scale(0.8548 1)" font-family='"Liberation Serif", serif' font-size="10.00" fill="#000" font-weight="bold" stroke="#000" stroke-width="0.25">FC</text>
<text transform="translate(578.44 396.70) scale(0.8074 1)" font-family='"Liberation Serif", serif' font-size="10.00" fill="#000" font-weight="bold" stroke="#000" stroke-width="0.25">DC</text>
<text transform="translate(635.35 396.70) scale(0.7624 1)" font-family='"Liberation Serif", serif' font-size="10.00" fill="#000" font-weight="bold" stroke="#000" stroke-width="0.25">TDC</text>
<text transform="translate(36.90 383.40) scale(0.7436 1)" font-family='"Liberation Serif", serif' font-size="10.00" fill="#000" font-weight="bold" stroke="#000" stroke-width="0.25">0.0</text>
<text transform="translate(36.90 336.96) scale(0.7436 1)" font-family='"Liberation Serif", serif' font-size="10.00" fill="#000" font-weight="bold" stroke="#000" stroke-width="0.25">0.5</text>
<text transform="translate(36.58 290.53) scale(0.7814 1)" font-family='"Liberation Serif", serif' font-size="9.85" fill="#000" font-weight="bold" stroke="#000" stroke-width="0.25">1.0</text>
<text transform="translate(36.58 244.19) scale(0.7699 1)" font-family='"Liberation Serif", serif' font-size="10.00" fill="#000" font-weight="bold" stroke="#000" stroke-width="0.25">1.5</text>
<text transform="translate(36.90 197.66) scale(0.7436 1)" font-family='"Liberation Serif", serif' font-size="10.00" fill="#000" font-weight="bold" stroke="#000" stroke-width="0.25">2.0</text>
<text transform="translate(36.90 151.32) scale(0.7325 1)" font-family='"Liberation Serif", serif' font-size="10.15" fill="#000" font-weight="bold" stroke="#000" stroke-width="0.25">2.5</text>
<text transform="translate(36.90 104.79) scale(0.7436 1)" font-family='"Liberation Serif", serif' font-size="10.00" fill="#000" font-weight="bold" stroke="#000" stroke-width="0.25">3.0</text>
<text transform="translate(368.89 383.72) scale(0.8923 1)" font-family='"Liberation Serif", serif' font-size="8.81" fill="#000" font-weight="bold" stroke="#000" stroke-width="0.25">0</text>
<text transform="translate(369.34 316.90) scale(0.7861 1)" font-family='"Liberation Serif", serif' font-size="8.94" fill="#000" font-weight="bold" stroke="#000" stroke-width="0.25">1</text>
<text transform="translate(368.89 249.81) scale(0.8789 1)" font-family='"Liberation Serif", serif' font-size="8.94" fill="#000" font-weight="bold" stroke="#000" stroke-width="0.25">2</text>
<text transform="translate(368.89 182.72) scale(0.8715 1)" font-family='"Liberation Serif", serif' font-size="8.81" fill="#000" font-weight="bold" stroke="#000" stroke-width="0.25">3</text>
<text transform="translate(369.13 115.90) scale(0.7735 1)" font-family='"Liberation Serif", serif' font-size="9.08" fill="#000" font-weight="bold" stroke="#000" stroke-width="0.25">4</text>
</svg>
</body></html>
